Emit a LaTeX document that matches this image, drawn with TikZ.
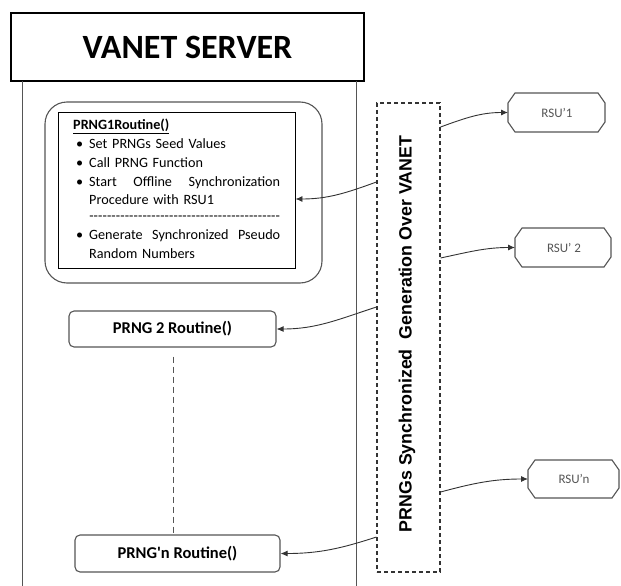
\documentclass[tikz,border=0pt]{standalone}
\usepackage{fontspec}
\setmainfont{Carlito}
\newfontfamily\arialb{Liberation Sans}
\usetikzlibrary{arrows.meta}
\definecolor{edge}{HTML}{555555}
\definecolor{wire}{HTML}{333333}
\tikzset{
  frame/.style={draw=edge, line width=1.1pt},
  routine/.style={frame, rounded corners=5pt, font=\fontsize{16.5}{18}\selectfont\bfseries, inner sep=0pt},
  link/.style={draw=wire, line width=0.9pt, -{Latex[length=7pt,width=6pt]}},
  rsu/.style={draw=edge, line width=1.1pt},
  rsulabel/.style={text=edge, font=\fontsize{13}{15}\selectfont},
}
% chamfered box used for the road side units
\newcommand\rsubox[5]{% name, left, top, right, bottom
  \draw[rsu] (#2+7,#3) -- (#4-7,#3) -- (#4,#3+10) -- (#4,#5-10) -- (#4-7,#5)
    -- (#2+7,#5) -- (#2,#5-10) -- (#2,#3+10) -- cycle;
  \coordinate (#1) at (#2,{(#3+#5)/2});
}
\newcommand\itm{\makebox[16pt][l]{\hspace{3pt}\textbullet}}
\begin{document}
\begin{tikzpicture}[x=1pt,y=-1pt]
\useasboundingbox (0,0) rectangle (621,586);

% server header and its side walls
\node[draw=black, line width=1.6pt, minimum width=353pt, minimum height=68pt, inner sep=0pt,
      font=\fontsize{34}{36}\selectfont\bfseries] (srv) at (187.5,47) {VANET SERVER};
\draw[edge, line width=1pt] (22,81) -- (22,586);
\draw[edge, line width=1pt] (356,81) -- (356,586);

% first routine: rounded container with its listing
\node[frame, rounded corners=22pt, minimum width=277pt, minimum height=181pt, inner sep=0pt] (p1out) at (183.5,192.5) {};
\node[draw=black, line width=0.9pt, minimum width=237pt, minimum height=156pt, inner sep=0pt] (p1) at (176.5,190) {};
\node[anchor=north west, inner sep=0pt, text width=210pt, align=left,
      font=\fontsize{14.2}{18.8}\selectfont] (p1txt) at (73,119) {%
  \textbf{\underline{PRNG1Routine()}}\\
  \itm Set PRNGs Seed Values\\
  \itm Call PRNG Function\\
  \itm\hbox to 191pt{Start\hfill Offline\hfill Synchronization}\\
  \hspace*{16pt}Procedure with RSU1\\[-3pt]
  \hspace*{16pt}\hbox to 191pt{\xleaders\hbox{-}\hfill}\\
  \itm\hbox to 191pt{Generate\hfill Synchronized\hfill Pseudo}\\
  \hspace*{16pt}Random Numbers};

% further routines
\node[routine, minimum width=207pt, minimum height=36pt] (p2) at (172.5,329) {PRNG 2 Routine()};
\node[routine, minimum width=205pt, minimum height=37pt] (pn) at (177.5,553.5) {PRNG\textquotesingle n Routine()};
\draw[edge, line width=1pt, dash pattern=on 6pt off 4pt] (p2.south -| 173,0) ++(0,9) -- (pn.north -| 173,0);

% synchronisation channel
\node[draw=wire, line width=1.1pt, dash pattern=on 4pt off 3pt, minimum width=63pt, minimum height=469pt, inner sep=0pt] (chan) at (408.5,337.5) {};
\node[rotate=90, inner sep=0pt, font=\arialb\fontsize{17.8}{19}\selectfont\bfseries] (chantxt) at (407,334)
  {PRNGs Synchronized\ \ Generation Over VANET};

% road side units
\rsubox{r1}{508}{93}{605}{132}
\node[rsulabel] (r1t) at (557,112.5) {RSU’1};
\rsubox{r2}{515}{228}{611}{267}
\node[rsulabel] (r2t) at (564,248) {RSU’ 2};
\rsubox{rn}{528}{460}{619}{498}
\node[rsulabel] (rnt) at (574,479) {RSU’n};

% links
\draw[link] (chan.west |- 0,182) to[out=200, in=0] (p1.east |- 0,199);
\draw[link] (chan.west |- 0,307) to[out=198, in=0] (p2.east);
\draw[link] (chan.west |- 0,537) to[out=198, in=0] (pn.east);
\draw[link] (chan.east |- 0,127) to[out=20, in=180] (r1);
\draw[link] (chan.east |- 0,258) to[out=12, in=180] (r2);
\draw[link] (chan.east |- 0,492) to[out=15, in=180] (rn);
\end{tikzpicture}
\end{document}
